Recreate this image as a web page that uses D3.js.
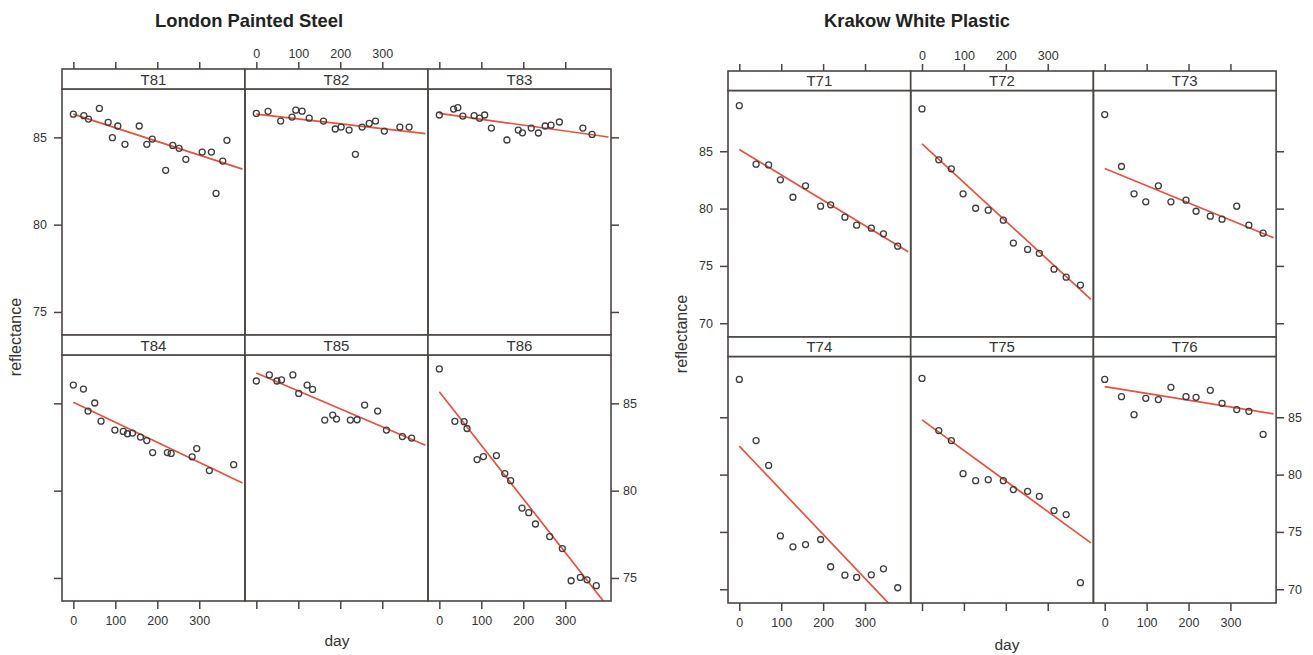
<!DOCTYPE html>
<html>
<head>
<meta charset="utf-8">
<script src="https://cdnjs.cloudflare.com/ajax/libs/d3/7.8.5/d3.min.js"></script>
<style>
  body { margin: 0; background: #fff; }
  text { font-family: "Liberation Sans", Arial, sans-serif; fill: #333; }
</style>
</head>
<body>
<div id="chartContainer"></div>
<script>
// ---- data: London Painted Steel ----
var steelPanels = ["T81", "T82", "T83", "T84", "T85", "T86"];
var t81Day = [0, 25, 36, 62, 83, 93, 106, 123, 157, 175, 188, 220, 237, 252, 268, 307, 329, 340, 356, 366];
var t81Refl = [86.33, 86.24, 86.05, 86.66, 85.86, 84.98, 85.65, 84.6, 85.65, 84.6, 84.9, 83.11, 84.54, 84.37, 83.74, 84.16, 84.16, 81.79, 83.64, 84.83];
var t82Day = [0, 28, 58, 85, 94, 109, 126, 160, 188, 202, 221, 236, 252, 269, 284, 305, 342, 364];
var t82Refl = [86.37, 86.49, 85.93, 86.16, 86.56, 86.5, 86.1, 85.93, 85.48, 85.59, 85.42, 84.03, 85.59, 85.8, 85.93, 85.36, 85.59, 85.59];
var t83Day = [0, 34, 44, 56, 83, 96, 108, 124, 161, 188, 198, 219, 236, 252, 266, 286, 342, 364];
var t83Refl = [86.28, 86.62, 86.7, 86.22, 86.24, 86.1, 86.28, 85.53, 84.85, 85.42, 85.26, 85.53, 85.25, 85.65, 85.7, 85.88, 85.53, 85.17];
var t84Day = [0, 24, 35, 51, 66, 99, 119, 129, 141, 160, 175, 189, 224, 233, 283, 294, 324, 382];
var t84Refl = [86.05, 85.82, 84.56, 85.02, 83.98, 83.47, 83.39, 83.26, 83.3, 83.07, 82.87, 82.18, 82.18, 82.13, 81.94, 82.41, 81.15, 81.49];
var t85Day = [0, 31, 49, 60, 87, 101, 121, 134, 163, 182, 191, 224, 240, 258, 289, 310, 348, 370];
var t85Refl = [86.28, 86.63, 86.28, 86.34, 86.63, 85.57, 86.05, 85.8, 84.04, 84.33, 84.1, 84.04, 84.06, 84.9, 84.56, 83.47, 83.1, 83.01];
var t86Day = [0, 37, 59, 66, 90, 105, 136, 156, 170, 197, 213, 229, 263, 293, 314, 336, 352, 374];
var t86Refl = [86.97, 83.97, 83.95, 83.56, 81.78, 81.95, 82.01, 80.98, 80.57, 79.0, 78.74, 78.09, 77.37, 76.68, 74.84, 75.03, 74.89, 74.56];
// fitted reflectance at day 0 and at day 403
var steelFitStart = [86.33, 86.33, 86.37, 85.06, 86.74, 85.67];
var steelFitEnd = [83.18, 85.21, 85.02, 80.44, 82.6, 73.3];

// ---- data: Krakow White Plastic ----
var plasticPanels = ["T71", "T72", "T73", "T74", "T75", "T76"];
var plasticDay = [0, 40, 70, 98, 128, 158, 194, 218, 252, 280, 315, 344, 378];
var t71Refl = [88.98, 83.87, 83.81, 82.51, 80.99, 81.99, 80.21, 80.33, 79.25, 78.55, 78.29, 77.8, 76.72];
var t72Refl = [88.69, 84.25, 83.47, 81.29, 80.03, 79.86, 78.99, 76.99, 76.44, 76.09, 74.72, 74.02, 73.33];
var t73Refl = [88.2, 83.67, 81.29, 80.59, 81.99, 80.59, 80.73, 79.77, 79.34, 79.08, 80.21, 78.55, 77.86];
var t74Refl = [88.3, 82.97, 80.8, 74.65, 73.7, 73.9, 74.34, 71.96, 71.23, 71.03, 71.26, 71.78, 70.13];
var t75Refl = [88.39, 83.84, 82.97, 80.08, 79.47, 79.56, 79.47, 78.69, 78.54, 78.1, 76.86, 76.51, 70.57];
var t76Refl = [88.3, 86.8, 85.23, 86.65, 86.54, 87.61, 86.8, 86.74, 87.35, 86.22, 85.67, 85.52, 83.5];
var plasticFitStart = [85.15, 85.64, 83.49, 82.48, 84.77, 87.67];
var plasticFitEnd = [76.24, 72.08, 77.46, 66.98, 74.04, 85.29];

var dayTicks = [0, 100, 200, 300];
var fitDays = [0, 403];

var svg = d3.select("#chartContainer").append("svg")
  .attr("width", 1313).attr("height", 655);

var frameColor = "#4b4542";
var lineColor = "#e8503f";

//draws one 3x2 lattice with its title and axes
function drawLattice(opt) {
  var g = svg.append("g");
  var w = opt.panelW, sh = opt.stripH, ph = opt.panelH;

  var x = d3.scaleLinear().domain([-27, 409]).range([0, w]);
  var y = d3.scaleLinear().domain(opt.yDomain).range([ph, 0]);

  opt.names.forEach(function (name, i) {
    var col = i % 3, row = Math.floor(i / 3);
    var px = opt.left + col * w;
    var sy = opt.top + row * (sh + ph);
    var py = sy + sh;
    var p = g.append("g").attr("transform", "translate(" + px + "," + py + ")");

    var clipId = "clip-" + name;
    p.append("clipPath").attr("id", clipId)
      .append("rect").attr("width", w).attr("height", ph);

    //strip
    g.append("rect")
      .attr("x", px).attr("y", sy).attr("width", w).attr("height", sh)
      .attr("fill", "#fff").attr("stroke", frameColor).attr("stroke-width", 1.6);
    g.append("text")
      .attr("x", px + w / 2).attr("y", sy + sh / 2 + 5.5)
      .attr("text-anchor", "middle").style("font-size", "15px")
      .text(name);

    //fitted line
    var line = d3.line()
      .x(function (d) { return x(d); })
      .y(function (d, k) { return y(k === 0 ? opt.fitStart[i] : opt.fitEnd[i]); });
    p.append("path").datum(fitDays)
      .attr("d", line)
      .attr("clip-path", "url(#" + clipId + ")")
      .attr("fill", "none").attr("stroke", lineColor).attr("stroke-width", 1.7);

    //points
    var days = opt.days[i], vals = opt.values[i];
    p.selectAll("circle").data(days).enter().append("circle")
      .attr("cx", function (d) { return x(d); })
      .attr("cy", function (d, k) { return y(vals[k]); })
      .attr("r", 3)
      .attr("fill", "none").attr("stroke", "#3c3c3c").attr("stroke-width", 1.3);

    //panel frame
    p.append("rect").attr("width", w).attr("height", ph)
      .attr("fill", "none").attr("stroke", frameColor).attr("stroke-width", 1.6);

    //axes, alternating labels like lattice does
    if (row === 0) {
      var top = d3.axisTop(x).tickValues(dayTicks).tickSize(7).tickSizeOuter(0).tickPadding(4);
      if (col !== 1) top.tickFormat("");
      styleAxis(g.append("g").attr("transform", "translate(" + px + "," + sy + ")").call(top));
    } else {
      var bottom = d3.axisBottom(x).tickValues(dayTicks).tickSize(8).tickSizeOuter(0).tickPadding(7);
      if (col === 1) bottom.tickFormat("");
      styleAxis(g.append("g").attr("transform", "translate(" + px + "," + (py + ph) + ")").call(bottom));
    }
    if (col === 0) {
      var la = d3.axisLeft(y).tickValues(opt.yTicks).tickSize(8).tickSizeOuter(0).tickPadding(7);
      if (row === 1) la.tickFormat("");
      styleAxis(g.append("g").attr("transform", "translate(" + px + "," + py + ")").call(la));
    }
    if (col === 2) {
      var ra = d3.axisRight(y).tickValues(opt.yTicks).tickSize(8).tickSizeOuter(0).tickPadding(4);
      if (row === 0) ra.tickFormat("");
      styleAxis(g.append("g").attr("transform", "translate(" + (px + w) + "," + py + ")").call(ra));
    }
  });

  //titles
  g.append("text").attr("x", opt.titleX).attr("y", 26.5)
    .attr("text-anchor", "middle").style("font-size", "18.4px").style("font-weight", "bold")
    .style("fill", "#222").text(opt.title);
  g.append("text").attr("x", opt.dayX).attr("y", opt.dayY)
    .attr("text-anchor", "middle").style("font-size", "15.5px").text("day");
  g.append("text")
    .attr("transform", "translate(" + opt.yLabX + "," + opt.yLabY + ") rotate(-90)")
    .attr("text-anchor", "middle").style("font-size", "16px").text("reflectance");
}

function styleAxis(a) {
  a.select(".domain").remove();
  a.selectAll("line").attr("stroke", frameColor).attr("stroke-width", 1.5);
  a.selectAll("text").style("font-size", "12.5px").style("font-family", "Liberation Sans, Arial, sans-serif").attr("fill", "#333");
}

drawLattice({
  title: "London Painted Steel", titleX: 249,
  names: steelPanels,
  days: [t81Day, t82Day, t83Day, t84Day, t85Day, t86Day],
  values: [t81Refl, t82Refl, t83Refl, t84Refl, t85Refl, t86Refl],
  fitStart: steelFitStart, fitEnd: steelFitEnd,
  left: 62, top: 69, panelW: 183, stripH: 20, panelH: 246,
  yDomain: [73.68, 87.77], yTicks: [75, 80, 85],
  dayX: 337, dayY: 646, yLabX: 20.5, yLabY: 337
});

drawLattice({
  title: "Krakow White Plastic", titleX: 917,
  names: plasticPanels,
  days: [plasticDay, plasticDay, plasticDay, plasticDay, plasticDay, plasticDay],
  values: [t71Refl, t72Refl, t73Refl, t74Refl, t75Refl, t76Refl],
  fitStart: plasticFitStart, fitEnd: plasticFitEnd,
  left: 728, top: 71, panelW: 182.7, stripH: 19.5, panelH: 246.5,
  yDomain: [68.8, 90.3], yTicks: [70, 75, 80, 85],
  dayX: 1007, dayY: 650, yLabX: 687, yLabY: 334
});
</script>
</body>
</html>
